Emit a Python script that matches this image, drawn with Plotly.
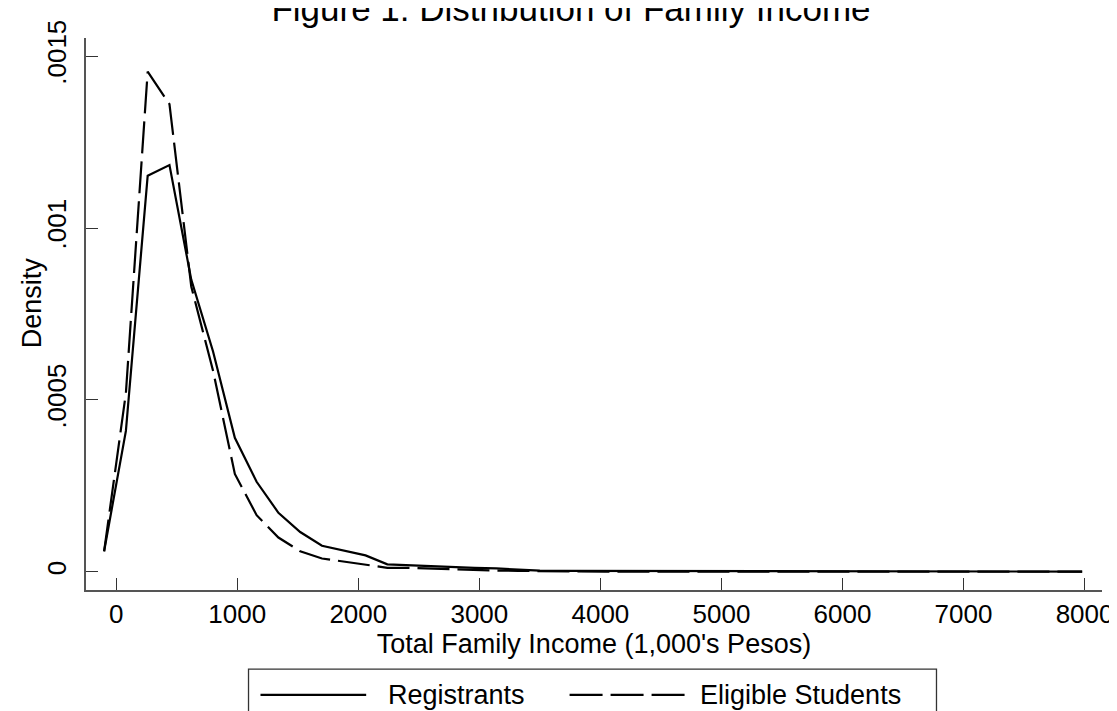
import plotly.graph_objects as go

# ---- data ----
income = [-100, 80, 260, 440, 620, 800, 980, 1160, 1340, 1520, 1700, 1880, 2060,
          2240, 2420, 2600, 2780, 2960, 3140, 3320, 3500, 3680, 3860, 4040, 4220,
          4400, 4580, 4760, 4940, 5120, 5300, 5480, 5660, 5840, 6020, 6200, 6380,
          6560, 6740, 6920, 7100, 7280, 7460, 7640, 7820, 7980]

registrants = [0.000060, 0.000410, 0.001152, 0.001183, 0.000850, 0.000641, 0.000390,
               0.000262, 0.000172, 0.000116, 0.000076, 0.000062, 0.000048, 0.000022,
               0.000019, 0.000016, 0.000013, 0.000012, 0.000010, 0.000006, 0.000004,
               0.000003, 0.000003, 0.000003, 0.000002, 0.000002, 0.000002, 0.000001,
               0.000001, 0.000001, 0.000001, 0.000001, 0.000001, 0.000001, 0.000001,
               0.000001, 0.000001, 0.000001, 0.000001, 0.000001, 0.000001, 0.000001,
               0.000001, 0.000001, 0.000001, 0.000001]

eligible = [0.000060, 0.000520, 0.001455, 0.001360, 0.000830, 0.000585, 0.000285,
            0.000165, 0.000100, 0.000060, 0.000039, 0.000030, 0.000020, 0.000012,
            0.000012, 0.000010, 0.000006, 0.000005, 0.000004, 0.000003, 0.000002,
            0.000002, 0.000001, 0.000001, 0.000001, 0.000001, 0.000001, 0.000001,
            0.000001, 0.000001, 0.000001, 0.000001, 0.000001, 0.000001, 0.000001,
            0.000001, 0.000001, 0.000001, 0.000001, 0.000001, 0.000001, 0.000001,
            0.000001, 0.000001, 0.000001, 0.000001]

series_names = ["Registrants", "Eligible Students"]
x_ticks = [0, 1000, 2000, 3000, 4000, 5000, 6000, 7000, 8000]
y_ticks = [0, 0.0005, 0.001, 0.0015]
y_tick_text = ["0", ".0005", ".001", ".0015"]

title_text = "Figure 1: Distribution of Family Income"
x_title = "Total Family Income (1,000's Pesos)"
y_title = "Density"

# ---- layout geometry (pixels) ----
W, H = 1117, 711
PL, PR, PT, PB = 78, 1097, 24, 582
FONT = "Liberation Sans, Arial, sans-serif"
DASH = "32px,8px"


def px(xp):
    return (xp - PL) / (PR - PL)


def py(yp):
    return (PB - yp) / (PB - PT)


fig = go.Figure()
fig.add_trace(go.Scatter(x=income, y=registrants, mode="lines", name=series_names[0],
                         line=dict(color="black", width=2.2), showlegend=False))
fig.add_trace(go.Scatter(x=income, y=eligible, mode="lines", name=series_names[1],
                         line=dict(color="black", width=2.2, dash=DASH), showlegend=False))

# legend drawn as a boxed key below the plot
leg_y = 688
shapes = [
    dict(type="rect", xref="paper", yref="paper", x0=px(241), x1=px(931),
         y0=py(662), y1=py(730), line=dict(color="#333333", width=1.3),
         fillcolor="rgba(0,0,0,0)", layer="above"),
    dict(type="line", xref="paper", yref="paper", x0=px(253), x1=px(359),
         y0=py(leg_y), y1=py(leg_y), line=dict(color="black", width=2.2)),
    dict(type="line", xref="paper", yref="paper", x0=px(563), x1=px(680),
         y0=py(leg_y), y1=py(leg_y), line=dict(color="black", width=2.2, dash="33px,8px")),
]

annotations = [
    dict(text=series_names[0], xref="paper", yref="paper", x=px(379), y=py(leg_y),
         xanchor="left", yanchor="middle", showarrow=False,
         font=dict(family=FONT, size=27, color="black")),
    dict(text=series_names[1], xref="paper", yref="paper", x=px(692), y=py(leg_y),
         xanchor="left", yanchor="middle", showarrow=False,
         font=dict(family=FONT, size=27, color="black")),
    dict(text=y_title, xref="paper", yref="paper", x=px(24), y=py(292),
         xanchor="center", yanchor="middle", textangle=-90, showarrow=False,
         font=dict(family=FONT, size=27, color="black")),
]

fig.update_layout(
    width=W, height=H, autosize=False,
    margin=dict(l=PL, r=W - PR, t=PT, b=H - PB, pad=0),
    paper_bgcolor="white", plot_bgcolor="white",
    font=dict(family=FONT, color="black"),
    title=dict(text=title_text, xref="container", yref="container",
               x=563 / W, xanchor="center", y=1 - 1.0 / H, yanchor="middle",
               font=dict(family=FONT, size=35, color="black")),
    shapes=shapes, annotations=annotations,
    showlegend=False,
)

fig.update_xaxes(
    range=[-249.6, 8144], tickvals=x_ticks,
    ticks="inside", ticklen=12, tickwidth=1.3, tickcolor="#333333",
    showline=True, linecolor="#555555", linewidth=1.5,
    showgrid=False, zeroline=False,
    tickfont=dict(family=FONT, size=26, color="black"),
    ticklabelstandoff=0,
    title=dict(text=x_title, font=dict(family=FONT, size=27, color="black"), standoff=0),
)
fig.update_yaxes(
    range=[-0.0000526, 0.0015526], tickvals=y_ticks, ticktext=y_tick_text,
    tickangle=-90,
    ticks="inside", ticklen=12, tickwidth=1.3, tickcolor="#333333",
    showline=True, linecolor="#555555", linewidth=1.5,
    showgrid=False, zeroline=False,
    tickfont=dict(family=FONT, size=26, color="black"),
    ticklabelstandoff=8,
)

fig.write_html("out.html")
